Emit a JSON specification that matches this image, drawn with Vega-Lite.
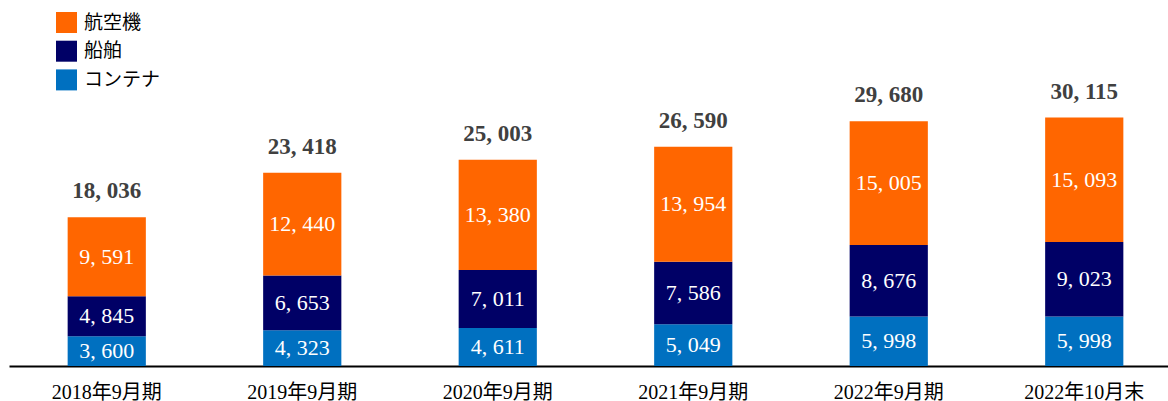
{
  "$schema": "https://vega.github.io/schema/vega-lite/v6.json",
  "autosize": {"type": "none"},
  "width": 1173,
  "height": 330,
  "padding": {"left": 9, "top": 36, "right": 0, "bottom": 35},
  "background": "white",
  "config": {"view": {"stroke": null}},
  "datasets": {
    "parts": [
      {"period": "2018年9月期", "type": "コンテナ", "value": 3600},
      {"period": "2018年9月期", "type": "船舶", "value": 4845},
      {"period": "2018年9月期", "type": "航空機", "value": 9591},
      {"period": "2019年9月期", "type": "コンテナ", "value": 4323},
      {"period": "2019年9月期", "type": "船舶", "value": 6653},
      {"period": "2019年9月期", "type": "航空機", "value": 12440},
      {"period": "2020年9月期", "type": "コンテナ", "value": 4611},
      {"period": "2020年9月期", "type": "船舶", "value": 7011},
      {"period": "2020年9月期", "type": "航空機", "value": 13380},
      {"period": "2021年9月期", "type": "コンテナ", "value": 5049},
      {"period": "2021年9月期", "type": "船舶", "value": 7586},
      {"period": "2021年9月期", "type": "航空機", "value": 13954},
      {"period": "2022年9月期", "type": "コンテナ", "value": 5998},
      {"period": "2022年9月期", "type": "船舶", "value": 8676},
      {"period": "2022年9月期", "type": "航空機", "value": 15005},
      {"period": "2022年10月末", "type": "コンテナ", "value": 5998},
      {"period": "2022年10月末", "type": "船舶", "value": 9023},
      {"period": "2022年10月末", "type": "航空機", "value": 15093}
    ],
    "totals": [
      {"period": "2018年9月期", "total": 18036},
      {"period": "2019年9月期", "total": 23418},
      {"period": "2020年9月期", "total": 25003},
      {"period": "2021年9月期", "total": 26590},
      {"period": "2022年9月期", "total": 29680},
      {"period": "2022年10月末", "total": 30115}
    ]
  },
  "encoding": {
    "x": {
      "field": "period",
      "type": "nominal",
      "sort": ["2018年9月期", "2019年9月期", "2020年9月期", "2021年9月期", "2022年9月期", "2022年10月末"],
      "scale": {"paddingInner": 0.6, "paddingOuter": 0.3},
      "axis": {
        "title": null,
        "labelAngle": 0,
        "ticks": false,
        "tickSize": 0,
        "domainColor": "#000000",
        "domainWidth": 2,
        "labelFont": "Liberation Serif, Noto Sans CJK JP",
        "labelFontSize": 20,
        "labelColor": "#000000",
        "labelPadding": 16
      }
    }
  },
  "layer": [
    {
      "data": {"name": "parts"},
      "transform": [
        {"calculate": "indexof(['コンテナ','船舶','航空機'], datum.type)", "as": "ord"}
      ],
      "mark": {"type": "bar"},
      "encoding": {
        "y": {
          "field": "value",
          "type": "quantitative",
          "stack": "zero",
          "scale": {"domain": [0, 40000], "nice": false},
          "axis": null
        },
        "color": {
          "field": "type",
          "type": "nominal",
          "scale": {
            "domain": ["航空機", "船舶", "コンテナ"],
            "range": ["#FF6600", "#000066", "#0070C0"]
          },
          "legend": {
            "title": null,
            "orient": "none",
            "legendX": 47,
            "legendY": -24,
            "symbolType": "square",
            "symbolSize": 441,
            "symbolStrokeWidth": 0,
            "rowPadding": 7.7,
            "labelFont": "Noto Sans CJK JP",
            "labelFontSize": 19,
            "labelColor": "#000000",
            "labelOffset": 7,
            "padding": 0
          }
        },
        "order": {"field": "ord", "type": "quantitative"}
      }
    },
    {
      "data": {"name": "parts"},
      "transform": [
        {"calculate": "indexof(['コンテナ','船舶','航空機'], datum.type)", "as": "ord"},
        {"calculate": "replace(format(datum.value, ','), ',', ', ')", "as": "label"}
      ],
      "mark": {
        "type": "text",
        "color": "#FFFFFF",
        "font": "Liberation Serif, Noto Sans CJK JP",
        "fontSize": 22,
        "baseline": "middle",
        "align": "center"
      },
      "encoding": {
        "y": {
          "field": "value",
          "type": "quantitative",
          "stack": "zero",
          "bandPosition": 0.5
        },
        "text": {"field": "label"},
        "order": {"field": "ord", "type": "quantitative"}
      }
    },
    {
      "data": {"name": "totals"},
      "transform": [
        {"calculate": "replace(format(datum.total, ','), ',', ', ')", "as": "tlabel"}
      ],
      "mark": {
        "type": "text",
        "color": "#404040",
        "font": "Liberation Serif, Noto Sans CJK JP",
        "fontSize": 23,
        "fontWeight": "bold",
        "baseline": "alphabetic",
        "align": "center",
        "dy": -19
      },
      "encoding": {
        "y": {"field": "total", "type": "quantitative"},
        "text": {"field": "tlabel"}
      }
    }
  ]
}
